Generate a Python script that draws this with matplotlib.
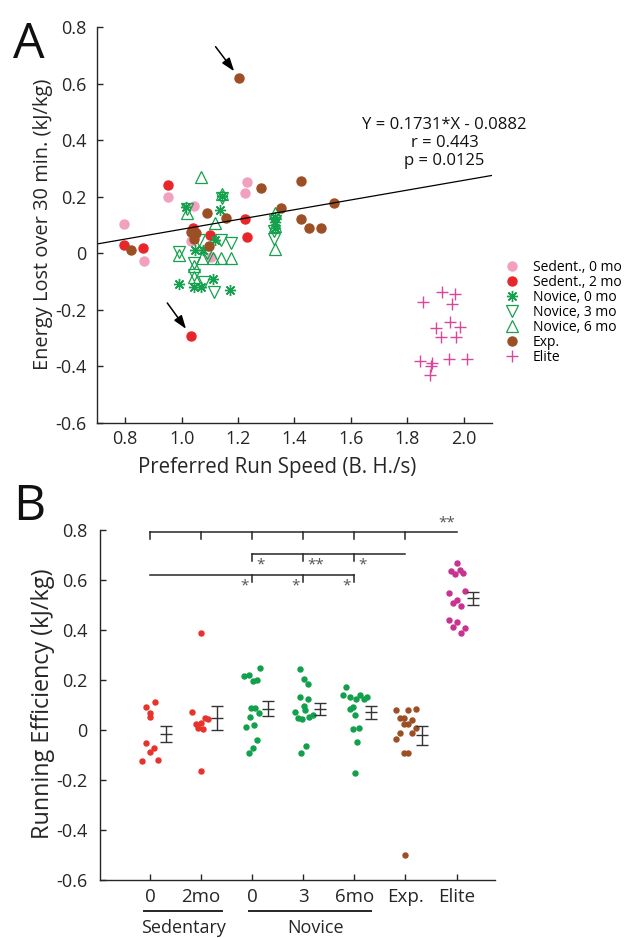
import numpy as np
import matplotlib.pyplot as plt

plt.rcParams['font.family'] = ['Open Sans', 'DejaVu Sans']
plt.rcParams['axes.unicode_minus'] = False

# ---- Panel A: energy lost vs preferred run speed ----
sed0_speed = [0.797, 0.95, 0.867, 1.045, 1.033, 1.105, 1.232, 1.224]
sed0_energy = [0.105, 0.2, -0.028, 0.167, 0.045, -0.012, 0.251, 0.214]

sed2_speed = [0.95, 0.795, 0.864, 1.039, 1.101, 1.224, 1.233, 1.033]
sed2_energy = [0.243, 0.029, 0.019, 0.088, 0.064, 0.122, 0.057, -0.291]

nov0_speed = [1.015, 1.143, 1.135, 1.331, 1.331, 1.331, 1.048, 1.075, 1.117,
              0.991, 1.045, 1.067, 1.11, 1.17]
nov0_energy = [0.163, 0.202, 0.153, 0.13, 0.11, 0.09, 0.012, 0.012, 0.047,
               -0.11, -0.118, -0.118, -0.092, -0.13]

nov3_speed = [1.143, 1.019, 1.331, 1.329, 1.329, 0.991, 1.063, 1.14, 1.174,
              1.045, 1.045, 1.081, 1.114, 1.09]
nov3_energy = [0.195, 0.155, 0.115, 0.08, 0.049, 0.005, 0.047, 0.047, 0.037,
               -0.035, -0.075, -0.1, -0.136, 0.0]

nov6_speed = [1.067, 1.019, 1.117, 1.331, 1.331, 0.991, 1.071, 1.11, 1.14,
              1.174, 1.045, 1.045, 1.331, 1.143]
nov6_energy = [0.271, 0.141, 0.108, 0.141, 0.014, -0.005, -0.018, -0.018,
               -0.018, -0.018, -0.045, -0.085, 0.095, 0.21]

exp_speed = [0.822, 1.033, 1.051, 1.045, 1.096, 1.09, 1.158, 1.28, 1.424,
             1.352, 1.541, 1.423, 1.452, 1.494, 1.204]
exp_energy = [0.012, 0.076, 0.073, 0.05, 0.026, 0.141, 0.124, 0.232, 0.256,
              0.161, 0.177, 0.12, 0.088, 0.09, 0.62]

elite_speed = [1.923, 1.968, 1.855, 1.96, 1.952, 1.986, 1.902, 1.918, 1.971,
               1.846, 1.888, 1.948, 2.012, 1.885, 1.879]
elite_energy = [-0.138, -0.145, -0.173, -0.179, -0.242, -0.262, -0.265, -0.297,
                -0.297, -0.38, -0.387, -0.375, -0.374, -0.398, -0.43]

fit_slope = 0.1731
fit_intercept = -0.0882
fit_text = 'Y = 0.1731*X - 0.0882\nr = 0.443\np = 0.0125'

# ---- Panel B: running efficiency per group ----
b_labels = ['0', '2mo', '0', '3', '6mo', 'Exp.', 'Elite']
b_colors = ['#e8322c', '#e8322c', '#12a04c', '#12a04c', '#12a04c', '#9c4f24', '#c8338f']
b_values = [
    [0.093, 0.113, 0.067, 0.051, -0.053, -0.071, -0.089, -0.124, -0.12],
    [0.387, 0.072, 0.047, 0.043, 0.024, 0.027, 0.007, 0.004, -0.164],
    [0.217, 0.22, 0.197, 0.2, 0.247, 0.089, 0.089, 0.067, 0.051, 0.013, 0.02,
     -0.04, -0.073, -0.093],
    [0.243, 0.203, 0.184, 0.133, 0.124, 0.096, 0.08, 0.073, 0.047, 0.043, 0.053,
     0.059, -0.064, -0.091],
    [0.171, 0.139, 0.133, 0.123, 0.139, 0.123, 0.133, 0.093, 0.083, 0.06, 0.004,
     0.007, -0.049, -0.171],
    [0.08, 0.08, 0.083, 0.047, 0.047, 0.04, 0.023, 0.023, 0.007, -0.011, -0.011,
     -0.036, -0.093, -0.093, -0.5],
    [0.669, 0.636, 0.64, 0.623, 0.629, 0.547, 0.556, 0.52, 0.507, 0.497, 0.44,
     0.433, 0.411, 0.407, 0.387],
]
# horizontal spread of the dots inside each group (category units)
b_jitter = [
    [-0.07, 0.1, 0, 0, -0.07, 0.08, 0, -0.15, 0.16],
    [-0.01, -0.17, 0.08, 0.14, -0.09, -0.01, -0.05, 0.03, -0.01],
    [-0.16, -0.07, 0.01, 0.09, 0.16, -0.03, 0.05, 0.14, -0.04, -0.12, 0.04,
     0.09, 0.01, -0.07],
    [-0.07, 0.01, 0.09, -0.07, 0.09, 0.01, 0.04, -0.17, -0.1, -0.03, 0.12,
     0.19, 0.05, -0.04],
    [-0.16, -0.22, -0.09, 0.04, 0.12, 0.18, 0.25, -0.03, -0.08, 0.02, -0.03,
     0.1, 0.05, 0.01],
    [-0.18, 0.05, 0.2, -0.1, -0.02, 0.12, -0.02, 0.05, 0.2, -0.1, 0.12, -0.18,
     -0.03, 0.05, 0],
    [0.01, -0.1, 0.06, -0.03, 0.13, -0.14, 0.16, 0.01, -0.07, 0.09, -0.14, 0.01,
     -0.06, 0.17, 0.09],
]

ink = '#262626'
fig = plt.figure(figsize=(6.24, 9.38), dpi=100)
axA = fig.add_axes([0.1554, 0.549, 0.633, 0.4222])
axB = fig.add_axes([0.160, 0.0618, 0.633, 0.3732])

for ax in (axA, axB):
    ax.spines['top'].set_visible(False)
    ax.spines['right'].set_visible(False)
    for s in ('left', 'bottom'):
        ax.spines[s].set_color(ink)
        ax.spines[s].set_linewidth(1.0)
    ax.tick_params(direction='in', length=4, width=1.0, colors=ink, labelsize=13)
    ax.tick_params(axis='y', pad=7.5)

# --- panel A ---
axA.plot(sed0_speed, sed0_energy, 'o', ms=6.5, color='#f2a0c0', label='Sedent., 0 mo')
axA.plot(sed2_speed, sed2_energy, 'o', ms=6.5, color='#e8262a', label='Sedent., 2 mo')
axA.plot(nov0_speed, nov0_energy, linestyle='none', marker=(8, 2, 0), ms=8,
         mew=1.0, color='#16a14e', label='Novice, 0 mo')
axA.plot(nov3_speed, nov3_energy, 'v', ms=8.5, mfc='none', mew=0.9,
         color='#16a14e', label='Novice, 3 mo')
axA.plot(nov6_speed, nov6_energy, '^', ms=8.5, mfc='none', mew=0.9,
         color='#16a14e', label='Novice, 6 mo')
axA.plot(exp_speed, exp_energy, 'o', ms=6.5, color='#9c4f24', label='Exp.')
axA.plot(elite_speed, elite_energy, '+', ms=9, mew=1.0, color='#d9479b', label='Elite')

xfit = np.array([0.7, 2.1])
axA.plot(xfit, fit_slope * xfit + fit_intercept, color='k', lw=0.9)
axA.text(1.932, 0.39, fit_text, ha='center', va='center', fontsize=12,
         linespacing=1.15, color='#111111')

# arrows to the two outliers
arrow = dict(arrowstyle='-|>,head_length=0.8,head_width=0.28', color='k', lw=1.1,
             shrinkA=0, shrinkB=6)
axA.annotate('', xy=(exp_speed[-1], exp_energy[-1]), xytext=(-17, 22.5),
             textcoords='offset points', arrowprops=arrow)
axA.annotate('', xy=(sed2_speed[-1], sed2_energy[-1]), xytext=(-17, 23.5),
             textcoords='offset points', arrowprops=arrow)

axA.set_xlim(0.7, 2.1)
axA.set_ylim(-0.6, 0.8)
axA.set_xticks([0.8, 1.0, 1.2, 1.4, 1.6, 1.8, 2.0])
axA.set_xticklabels(['0.8', '1.0', '1.2', '1.4', '1.6', '1.8', '2.0'])
yt = [-0.6, -0.4, -0.2, 0, 0.2, 0.4, 0.6, 0.8]
axA.set_yticks(yt)
axA.set_yticklabels(['-0.6', '-0.4', '-0.2', '0', '0.2', '0.4', '0.6', '0.8'])
axA.tick_params(axis='x', pad=5)
axA.set_xlabel('Preferred Run Speed (B. H./s)', fontsize=14.8, color=ink)
axA.set_ylabel('Energy Lost over 30 min. (kJ/kg)', fontsize=14.4, color=ink)
axA.xaxis.set_label_coords(0.457, -0.086)
axA.yaxis.set_label_coords(-0.111, 0.503)
axA.legend(loc='upper left', bbox_to_anchor=(1.03, 0.412), frameon=False,
           borderaxespad=0, handlelength=1.2, handletextpad=0.9,
           labelspacing=0.0, fontsize=10, borderpad=0)

# --- panel B ---
pos = np.arange(1, len(b_labels) + 1)
for i in range(len(b_labels)):
    vals = np.array(b_values[i])
    xs = pos[i] + np.array(b_jitter[i])
    axB.plot(xs, vals, 'o', ms=3.6, color=b_colors[i])
    mean = vals.mean()
    sem = vals.std(ddof=1) / np.sqrt(len(vals))
    axB.errorbar(pos[i] + 0.32, mean, yerr=sem, fmt='_', ms=9, mew=1.0,
                 color='#333333', ecolor='#333333', elinewidth=1.0,
                 capsize=4.5, capthick=1.0)

# significance brackets: (y level, x start, x end, tick positions)
def bracket(y, x0, x1, ticks, drop=0.028):
    axB.plot([x0, x1], [y, y], color=ink, lw=1.1, clip_on=False)
    for t in ticks:
        axB.plot([t, t], [y, y - drop], color=ink, lw=1.1, clip_on=False)

bracket(0.791, 1, 7, [1, 2, 3, 4, 5, 6])
axB.text(6.97, 0.80, '**', ha='right', va='bottom', fontsize=11, color='#555555')
bracket(0.704, 3, 6, [3, 4, 5])
for x, s in zip([3.08, 4.08, 5.08], ['*', '**', '*']):
    axB.text(x, 0.692, s, ha='left', va='top', fontsize=11, color='#555555')
bracket(0.619, 1, 5, [3, 4, 5])
for x in [2.93, 3.93, 4.93]:
    axB.text(x, 0.607, '*', ha='right', va='top', fontsize=11, color='#555555')

axB.set_xlim(0.02, 7.75)
axB.set_ylim(-0.6, 0.8)
axB.set_xticks(pos)
axB.set_xticklabels(b_labels, fontsize=13.5)
axB.set_yticks(yt)
axB.set_yticklabels(['-0.6', '-0.4', '-0.2', '0', '0.2', '0.4', '0.6', '0.8'])
axB.tick_params(axis='y', pad=9)
axB.tick_params(axis='x', pad=6)
axB.set_ylabel('Running Efficiency (kJ/kg)', fontsize=16.8, color=ink)
axB.yaxis.set_label_coords(-0.114, 0.505)

# group labels under the x axis
trans = axB.get_xaxis_transform()
axB.plot([0.88, 2.41], [-0.088, -0.088], color=ink, lw=1.4, transform=trans, clip_on=False)
axB.plot([2.94, 5.33], [-0.088, -0.088], color=ink, lw=1.4, transform=trans, clip_on=False)
axB.text(1.65, -0.112, 'Sedentary', transform=trans, ha='center', va='top',
         fontsize=13, color=ink)
axB.text(4.24, -0.112, 'Novice', transform=trans, ha='center', va='top',
         fontsize=13, color=ink)

fig.text(0.021, 0.938, 'A', fontsize=36, color='#111111', va='baseline')
fig.text(0.021, 0.4456, 'B', fontsize=36, color='#111111', va='baseline')

fig.savefig('out.png', dpi=100)
